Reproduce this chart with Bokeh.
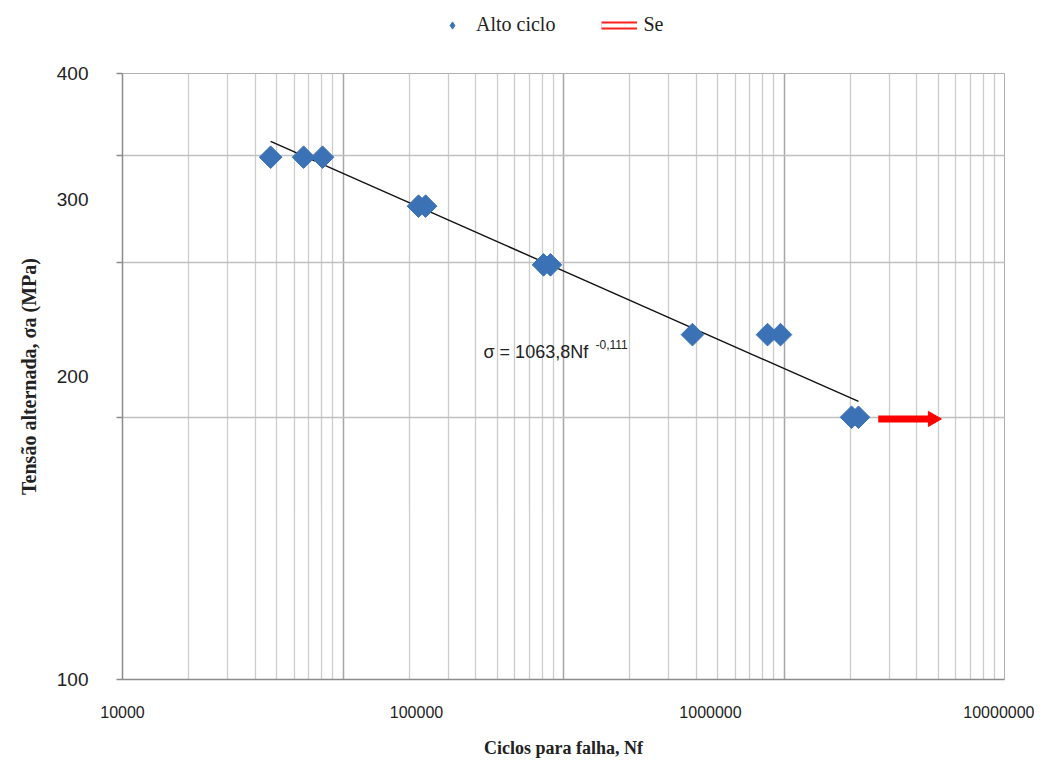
import math
from bokeh.plotting import figure
from bokeh.layouts import column
from bokeh.models import (Range1d, FixedTicker, NumeralTickFormatter, Legend, LegendItem,
                          Label, ColumnDataSource)
from bokeh.embed import file_html
from bokeh.resources import INLINE

# ---- data ----
ciclos = [31900, 41300, 47900, 101600, 107400, 270400, 285500, 868000, 1563000, 1730000, 3018000, 3187000]
tensao = [330.3, 330.3, 330.3, 295.3, 295.3, 258.2, 258.2, 220.1, 220.1, 220.1, 182.2, 182.2]
trend_x = [31900, 3187000]
trend_y = [342.5, 188.9]
se_x = [3720000, 5700000]
se_y = [181.5, 181.5]
x_ticks = [10000, 100000, 1000000, 10000000]
y_ticks = [100, 200, 300, 400]
y_grid = [182.2, 259.4, 331.7]
equation = "σ = 1063,8Nf"
exponent = "-0,111"

SERIF = "Liberation Serif"
SANS = "Liberation Sans"
W = 1034

# ---- legend strip on top ----
leg = figure(width=W, height=46, x_range=Range1d(0, 1), y_range=Range1d(0, 1),
             output_backend="svg", toolbar_location=None,
             min_border=0, outline_line_color=None)
leg.axis.visible = False
leg.grid.visible = False
r_dia = leg.scatter([5], [5], marker="diamond", size=17,
                    fill_color="#3b72b6", line_color="#3b72b6")
r_arrow_out = leg.line([5, 6], [5, 5], line_color="#ff2020", line_width=8)
r_arrow_in = leg.line([5, 6], [5, 5], line_color="white", line_width=4)
legend = Legend(items=[LegendItem(label="Alto ciclo", renderers=[r_dia]),
                       LegendItem(label="Se", renderers=[r_arrow_out, r_arrow_in])],
                orientation="horizontal", location=(308, 6),
                label_text_font=SERIF, label_text_font_size="20px", label_text_color="#222222",
                glyph_width=36, glyph_height=18, label_standoff=6, spacing=46,
                border_line_alpha=0, background_fill_alpha=0, padding=4, margin=0)
leg.add_layout(legend, "center")

# ---- main chart ----
p = figure(width=W, height=714, x_axis_type="log", y_axis_type="log",
           x_range=Range1d(1e4, 1e7), y_range=Range1d(100, 400),
           output_backend="svg", toolbar_location=None,
           min_border_left=122, min_border_right=30, min_border_top=27, min_border_bottom=79)
p.outline_line_color = "#b0b0b0"

# x grid: decade lines (darker) and in-between lines
dec_lines = [10 ** (4 + 0.75 * d) for d in range(5)]
minor_lines = [10 ** (4 + 0.75 * (d + math.log10(k))) for d in range(4) for k in range(2, 10)]
p.xgrid.ticker = FixedTicker(ticks=dec_lines, minor_ticks=minor_lines)
p.xgrid.grid_line_color = "#a6a6a6"
p.xgrid.grid_line_width = 1.5
p.xgrid.minor_grid_line_color = "#cccccc"
p.xgrid.minor_grid_line_width = 1.3
p.ygrid.ticker = FixedTicker(ticks=y_grid)
p.ygrid.grid_line_color = "#c0c0c0"
p.ygrid.grid_line_width = 1.5

# axes
p.xaxis.ticker = FixedTicker(ticks=x_ticks)
p.xaxis.formatter = NumeralTickFormatter(format="0")
p.xaxis.major_tick_out = 0
p.xaxis.major_tick_in = 0
p.xaxis.minor_tick_out = 0
p.xaxis.minor_tick_in = 0
p.xaxis.major_label_standoff = 26
p.xaxis.major_label_text_font = SANS
p.xaxis.major_label_text_font_size = "16px"
p.xaxis.major_label_text_color = "#222222"
p.xaxis.axis_line_color = "#8c8c8c"
p.xaxis.axis_line_width = 1.5
p.xaxis.axis_label = "Ciclos para falha, Nf"
p.xaxis.axis_label_text_font = SERIF
p.xaxis.axis_label_text_font_style = "bold"
p.xaxis.axis_label_text_font_size = "18px"
p.xaxis.axis_label_standoff = 17
p.xaxis.axis_label_text_color = "#222222"

p.yaxis.ticker = FixedTicker(ticks=y_ticks, minor_ticks=y_grid + [100, 400])
p.yaxis.formatter = NumeralTickFormatter(format="0")
p.yaxis.major_tick_out = 0
p.yaxis.major_tick_in = 0
p.yaxis.minor_tick_out = 6
p.yaxis.minor_tick_in = 0
p.yaxis.minor_tick_line_color = "#8c8c8c"
p.yaxis.minor_tick_line_width = 1.5
p.yaxis.major_label_standoff = 28
p.yaxis.major_label_text_font = SANS
p.yaxis.major_label_text_font_size = "19px"
p.yaxis.major_label_text_color = "#222222"
p.yaxis.axis_line_color = "#8c8c8c"
p.yaxis.axis_line_width = 1.5
p.yaxis.axis_label = "Tensão alternada, σa (MPa)"
p.yaxis.axis_label_text_font = SERIF
p.yaxis.axis_label_text_font_style = "bold"
p.yaxis.axis_label_text_font_size = "20px"
p.yaxis.axis_label_standoff = 14
p.yaxis.axis_label_text_color = "#222222"

# trend line
p.line(trend_x, trend_y, line_color="#111111", line_width=1.4)

# data points
p.scatter(ciclos, tensao, marker="square", angle=math.pi / 4, size=16,
          fill_color="#3b72b6", line_color="#3b72b6")

# Se arrow
se_src = ColumnDataSource(dict(x0=[se_x[0]], y0=[se_y[0]], x1=[se_x[1]], y1=[se_y[1]]))
p.segment(x0="x0", y0="y0", x1="x1", y1="y1", source=se_src,
          line_color="#ff0000", line_width=7)
p.scatter([se_x[1]], [se_y[1]], marker="triangle", angle=-math.pi / 2, size=15,
          fill_color="#ff0000", line_color="#ff0000")

# equation
p.add_layout(Label(x=169000, y=211.7, text=equation, text_font=SANS,
                   text_font_size="18px", text_color="#222222", text_baseline="middle"))
p.add_layout(Label(x=169000, y=211.7, x_offset=112, y_offset=7, text=exponent, text_font=SANS,
                   text_font_size="12px", text_color="#222222", text_baseline="middle"))

layout = column(leg, p, spacing=0)
open("out.html", "w").write(file_html(layout, INLINE))
